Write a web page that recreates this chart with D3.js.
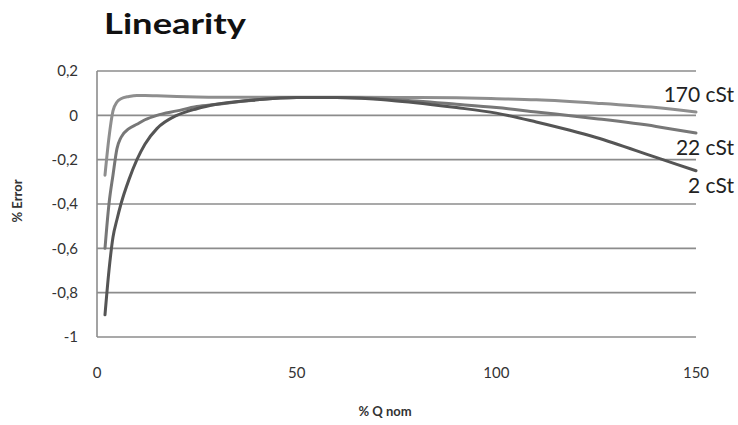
<!DOCTYPE html>
<html>
<head>
<meta charset="utf-8">
<script src="https://cdn.jsdelivr.net/npm/d3@7"></script>
<style>
  body { margin: 0; background: #fff; }
  text { font-family: Lato, "Open Sans", sans-serif; }
</style>
</head>
<body>
<script>
// % Q nom sample points
const qNom = [2, 3, 4, 5, 6, 8, 10, 12, 15, 20, 25, 30, 40, 50, 60, 75, 90, 100, 110, 125, 140, 150];
const err2 = [-0.9, -0.7, -0.55, -0.47, -0.4, -0.29, -0.2, -0.13, -0.06, 0.0, 0.03, 0.05, 0.07, 0.08, 0.08, 0.065, 0.035, 0.01, -0.03, -0.1, -0.19, -0.25];
const err22 = [-0.6, -0.4, -0.27, -0.15, -0.1, -0.06, -0.04, -0.02, 0.0, 0.02, 0.04, 0.05, 0.07, 0.08, 0.08, 0.07, 0.05, 0.035, 0.015, -0.015, -0.05, -0.08];
const err170 = [-0.27, -0.1, 0.02, 0.06, 0.075, 0.085, 0.09, 0.09, 0.088, 0.085, 0.083, 0.082, 0.082, 0.082, 0.082, 0.081, 0.079, 0.075, 0.07, 0.055, 0.035, 0.015];
const seriesNames = ["2 cSt", "22 cSt", "170 cSt"];
const xTicks = [0, 50, 100, 150];
const yTicks = [0.2, 0, -0.2, -0.4, -0.6, -0.8, -1];

const width = 738, height = 425;
const margin = {top: 71, right: 42, bottom: 88, left: 97};

const svg = d3.select("body").append("svg")
  .attr("width", width)
  .attr("height", height);

const x = d3.scaleLinear().domain([0, 150]).range([margin.left, width - margin.right]);
const y = d3.scaleLinear().domain([-1, 0.2]).range([height - margin.bottom, margin.top]);

// gridlines
svg.append("g")
  .selectAll("line")
  .data(yTicks)
  .join("line")
  .attr("x1", x(0)).attr("x2", x(150))
  .attr("y1", d => y(d)).attr("y2", d => y(d))
  .attr("stroke", "#8c8c8c")
  .attr("stroke-width", 1.6);

svg.append("line")
  .attr("x1", x(0)).attr("x2", x(0))
  .attr("y1", y(0.2)).attr("y2", y(-1))
  .attr("stroke", "#8c8c8c")
  .attr("stroke-width", 1.6);

// y tick labels
svg.append("g")
  .selectAll("text")
  .data(yTicks)
  .join("text")
  .attr("x", 78)
  .attr("y", d => y(d))
  .attr("dy", "0.35em")
  .attr("text-anchor", "end")
  .attr("font-size", 15)
  .attr("fill", "#333")
  .text(d => String(d).replace(".", ","));

// x tick labels
svg.append("g")
  .selectAll("text")
  .data(xTicks)
  .join("text")
  .attr("x", d => x(d))
  .attr("y", 378)
  .attr("text-anchor", "middle")
  .attr("font-size", 15)
  .attr("fill", "#333")
  .text(d => d);

// series
const seriesData = [err2, err22, err170];
const colors = ["#555555", "#777777", "#8e8e8e"];
const line = d3.line()
  .x((d, i) => x(qNom[i]))
  .y(d => y(d))
  .curve(d3.curveMonotoneX);

svg.append("g")
  .selectAll("path")
  .data([2, 1, 0])
  .join("path")
  .attr("d", k => line(seriesData[k]))
  .attr("fill", "none")
  .attr("stroke", k => colors[k])
  .attr("stroke-width", 3)
  .attr("stroke-linecap", "round")
  .attr("stroke-linejoin", "round");

// series labels at right end
const labelY = [193, 155, 102];
svg.append("g")
  .selectAll("text")
  .data(seriesNames)
  .join("text")
  .attr("x", 734)
  .attr("y", (d, i) => labelY[i])
  .attr("text-anchor", "end")
  .attr("font-family", "Liberation Sans, Arial, sans-serif")
  .attr("font-size", 21)
  .attr("fill", "#222")
  .text(d => d);

// titles
svg.append("text")
  .attr("x", 104)
  .attr("y", 34)
  .attr("font-size", 28)
  .attr("font-weight", "bold")
  .attr("fill", "#111")
  .attr("textLength", 142)
  .attr("lengthAdjust", "spacingAndGlyphs")
  .text("Linearity");

svg.append("text")
  .attr("transform", "translate(22,201) rotate(-90)")
  .attr("text-anchor", "middle")
  .attr("font-size", 13)
  .attr("font-weight", "bold")
  .attr("fill", "#333")
  .text("% Error");

svg.append("text")
  .attr("x", 385)
  .attr("y", 416)
  .attr("text-anchor", "middle")
  .attr("font-size", 13)
  .attr("font-weight", "bold")
  .attr("fill", "#333")
  .text("% Q nom");
</script>
</body>
</html>
